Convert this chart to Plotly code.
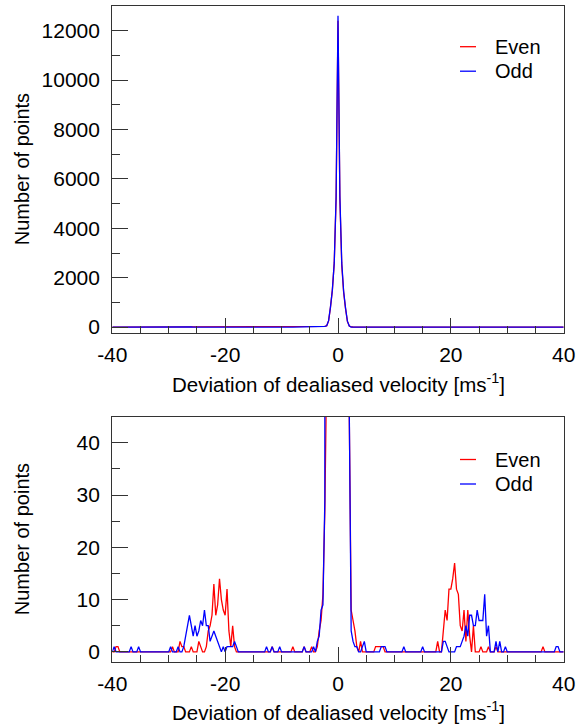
import numpy as np
import plotly.graph_objects as go

# ---------------- data (histogram, bin width 1/3 m/s, -40..40) ----------------
bin_width = 1.0 / 3.0
x_min, x_max = -40.0, 40.0

# non-zero bin counts: {bin centre (m/s): count}
even_counts = {
    -39.33: 1, -39.0: 1, -29.33: 1, -28.0: 2, -27.67: 1, -27.33: 1, -26.0: 1,
    -24.67: 2, -24.33: 1, -23.33: 1, -23.0: 4, -22.67: 5, -22.33: 7, -22.0: 13,
    -21.67: 7, -21.33: 9, -21.0: 14, -20.67: 10, -20.33: 8, -20.0: 7, -19.67: 12,
    -19.33: 4, -19.0: 1, -18.67: 5, -18.33: 1,
    -11.67: 1, -8.0: 1, -6.0: 1, -4.67: 1, -3.67: 1, -3.33: 4, -3.0: 6,
    -2.67: 11, -2.33: 27, -2.0: 55, -1.67: 250, -1.33: 800, -1.0: 1500,
    -0.67: 2600, -0.33: 5200, 0.0: 12400, 0.33: 5200, 0.67: 2500, 1.0: 1400,
    1.33: 750, 1.67: 230, 2.0: 45, 2.33: 8, 2.67: 6, 3.0: 4, 3.33: 1, 4.0: 2,
    6.67: 1, 7.0: 1, 7.33: 1, 7.67: 1, 8.0: 1,
    17.67: 2, 18.67: 4, 19.0: 8, 19.33: 6, 19.67: 12, 20.0: 12, 20.33: 14,
    20.67: 17, 21.0: 12, 21.33: 11, 21.67: 5, 22.0: 4, 22.33: 8, 22.67: 2,
    23.0: 8, 23.33: 3, 24.0: 5, 25.33: 1, 26.67: 1, 28.0: 1, 36.33: 1,
}

odd_counts = {
    -39.67: 1, -36.67: 1, -35.33: 1, -29.67: 1, -28.33: 1, -27.33: 1, -27.0: 3,
    -26.67: 5, -26.33: 7, -26.0: 5, -25.67: 3, -25.33: 5, -25.0: 3, -24.67: 4,
    -24.33: 6, -24.0: 5, -23.67: 8, -23.33: 5, -23.0: 5, -22.67: 2, -22.33: 3,
    -22.0: 4, -21.67: 3, -21.33: 2, -21.0: 1, -20.33: 1, -19.67: 1, -19.33: 1,
    -19.0: 1, -18.67: 1, -18.33: 2, -18.0: 1,
    -12.67: 1, -11.67: 1, -10.33: 1, -6.0: 1, -4.33: 1, -3.67: 2, -3.33: 3,
    -3.0: 8, -2.67: 9, -2.33: 29, -2.0: 55, -1.67: 260, -1.33: 820, -1.0: 1500,
    -0.67: 2600, -0.33: 5300, 0.0: 12600, 0.33: 5300, 0.67: 2600, 1.0: 1450,
    1.33: 780, 1.67: 240, 2.0: 46, 2.33: 4, 2.67: 2, 3.0: 1, 3.33: 1,
    4.33: 1, 4.67: 2, 7.67: 1, 8.0: 1, 8.33: 1, 11.67: 1, 15.0: 1,
    18.67: 2, 19.0: 2, 19.33: 1, 21.0: 1, 21.33: 1, 21.67: 1, 22.0: 2, 22.33: 3,
    22.67: 5, 23.0: 3, 23.33: 7, 23.67: 7, 24.0: 5, 24.33: 5, 24.67: 8, 25.0: 6,
    25.33: 6, 25.67: 6, 26.0: 11, 26.33: 3, 26.67: 5, 28.0: 2, 28.67: 2,
    29.67: 1, 38.67: 1, 39.0: 1,
}

series_names = ["Even", "Odd"]
series_colors = ["#ff0000", "#0000ff"]

x_ticks_major = [-40, -20, 0, 20, 40]
x_title = "Deviation of dealiased velocity [ms<sup>-1</sup>]"
y_title = "Number of points"

# ---------------- build full histograms ----------------
n_bins = int(round((x_max - x_min) / bin_width)) + 1
bins = np.array([x_min + i * bin_width for i in range(n_bins)])


def to_series(counts):
    vals = np.zeros(n_bins)
    for xc, c in counts.items():
        idx = int(round((xc - x_min) / bin_width))
        vals[idx] = c
    return vals


series = [to_series(even_counts), to_series(odd_counts)]

# ---------------- figure ----------------
W, H = 577, 727
FONT = "Liberation Sans, Arial, Helvetica, sans-serif"
AX_COLOR = "#333333"

fig = go.Figure()
for xa, ya in [("x", "y"), ("x2", "y2")]:
    for name, col, vals in zip(series_names, series_colors, series):
        fig.add_trace(go.Scatter(
            x=bins, y=vals, mode="lines", name=name,
            line=dict(color=col, width=1.3),
            xaxis=xa, yaxis=ya, showlegend=False,
        ))

x_dom = [112.3 / W, 563.7 / W]
top_dom = [1 - 333.3 / H, 1 - 6.0 / H]
bot_dom = [1 - 662.3 / H, 1 - 416.7 / H]

common_x = dict(
    domain=x_dom, range=[x_min, x_max], tickmode="array", tickvals=x_ticks_major,
    ticktext=[str(v) for v in x_ticks_major],
    ticks="inside", ticklen=15, tickwidth=1.3, tickcolor=AX_COLOR,
    minor=dict(dtick=5, tick0=0, ticks="inside", ticklen=7, tickwidth=1.3, tickcolor=AX_COLOR),
    showline=True, mirror=True, linecolor=AX_COLOR, linewidth=1.3,
    showgrid=False, zeroline=False, automargin=False,
    tickfont=dict(family=FONT, size=21, color="black"),
    ticklabelstandoff=2,
)
common_y = dict(
    ticks="inside", ticklen=16, tickwidth=1.3, tickcolor=AX_COLOR,
    showline=True, mirror=True, linecolor=AX_COLOR, linewidth=1.3,
    showgrid=False, zeroline=False, automargin=False, tickformat="d",
    tickfont=dict(family=FONT, size=21, color="black"),
    ticklabelstandoff=7,
)

fig.update_layout(
    width=W, height=H,
    margin=dict(l=0, r=0, t=0, b=0, autoexpand=False),
    paper_bgcolor="white", plot_bgcolor="white",
    showlegend=False,
    xaxis=dict(**common_x, anchor="y"),
    yaxis=dict(**common_y, domain=top_dom, range=[-250, 13000], dtick=2000, tick0=0,
               minor=dict(dtick=1000, ticks="inside", ticklen=8, tickwidth=1.3, tickcolor=AX_COLOR),
               anchor="x"),
    xaxis2=dict(**common_x, anchor="y2"),
    yaxis2=dict(**common_y, domain=bot_dom, range=[-2, 45], dtick=10, tick0=0,
                minor=dict(dtick=5, ticks="inside", ticklen=8, tickwidth=1.3, tickcolor=AX_COLOR),
                anchor="x2"),
)

ytitle_font = dict(family=FONT, size=20, color="black")
xtitle_font = dict(family=FONT, size=20.5, color="black")
annotations = [
    dict(text=y_title, x=21.7 / W, y=1 - 169.5 / H, textangle=-90, font=ytitle_font),
    dict(text=y_title, x=21.7 / W, y=1 - 539.5 / H, textangle=-90, font=ytitle_font),
    dict(text=x_title, x=338.0 / W, y=1 - 383.0 / H, font=xtitle_font),
    dict(text=x_title, x=338.0 / W, y=1 - 711.0 / H, font=xtitle_font),
]
for a in annotations:
    fig.add_annotation(xref="paper", yref="paper", showarrow=False,
                       xanchor="center", yanchor="middle", **a)

# legend keys (one per panel), positioned like the reference
legend_font = dict(family=FONT, size=20, color="black")
for y_first in (46.7, 459.5):
    for i, (name, col) in enumerate(zip(series_names, series_colors)):
        yc = y_first + i * 24.5
        fig.add_shape(type="line", xref="paper", yref="paper",
                      x0=460 / W, x1=476 / W, y0=1 - yc / H, y1=1 - yc / H,
                      line=dict(color=col, width=1.3))
        fig.add_annotation(xref="paper", yref="paper", showarrow=False,
                           x=493 / W, y=1 - yc / H, xanchor="left", yanchor="middle",
                           text=name, font=legend_font)

fig.write_html("out.html")
